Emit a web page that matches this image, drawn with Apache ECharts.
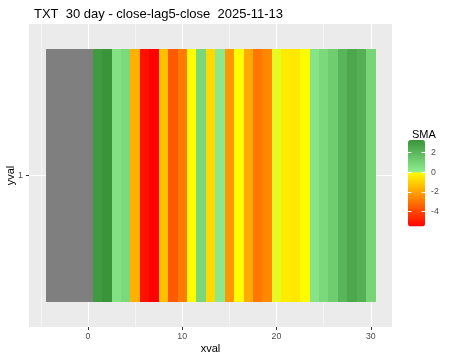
<!DOCTYPE html>
<html><head><meta charset="utf-8">
<script src="https://cdn.jsdelivr.net/npm/echarts@6/dist/echarts.min.js"></script>
<style>html,body{margin:0;padding:0;background:#fff}#c{width:450px;height:360px}</style>
</head><body><div id="c"></div>
<script>
const titleText = 'TXT  30 day - close-lag5-close  2025-11-13';
const naX = [-4, -3, -2, -1, 0];
const xval = [1,2,3,4,5,6,7,8,9,10,11,12,13,14,15,16,17,18,19,20,21,22,23,24,25,26,27,28,29,30];
const smaVal = [3.05, 3.28, 0.51, 0.80, -1.71, -5.17, -5.52, -1.36, -3.57, -2.88,
                -0.02, 0.84, -0.84, 0.22, -2.21, -0.05, -1.84, -2.94, -2.58, -0.01,
                -0.43, -0.50, -0.06, 0.36, 0.80, 1.24, 2.08, 2.55, 2.26, 0.95];
const yRow = 1;
const yLabels = ['1'];
const xBreaks = [0, 10, 20, 30];
const xMinorBreaks = [-5, 5, 15, 25];
const legendBreaks = [2, 0, -2, -4];

const FONT = 'Liberation Sans, Arial, sans-serif';
const allX = naX.concat(xval);
const lo = Math.min(...allX) - 0.5, hi = Math.max(...allX) + 0.5;
const pad = (hi - lo) * 0.05;
const xMin = lo - pad, xMax = hi + pad;
const vMin = Math.min(...smaVal), vMax = Math.max(...smaVal);

function hex(c){return [parseInt(c.slice(1,3),16),parseInt(c.slice(3,5),16),parseInt(c.slice(5,7),16)];}
function lerp(a,b,t){const A=hex(a),B=hex(b);return 'rgb('+A.map((v,i)=>Math.round(v+(B[i]-v)*t)).join(',')+')';}
function colorOf(v){
  if (v < 0) return lerp('#FF0000','#FFFF00',(v - vMin)/(0 - vMin));
  return lerp('#90EE90','#3A943A', v / vMax);
}
const stops = [];
const N = 201;
for (let i = 0; i < N; i++) stops.push(colorOf(vMin + (vMax - vMin) * i / (N - 1)));

function tile(color){
  return function(params, api){
    const x = api.value(0), y = api.value(1);
    const p0 = api.coord([x - 0.5, y + 0.5]);
    const p1 = api.coord([x + 0.5, y - 0.5]);
    const x0 = Math.round(p0[0]), x1 = Math.round(p1[0]);
    const y0 = Math.round(p0[1]), y1 = Math.round(p1[1]);
    const c = color || api.visual('color');
    return {type:'rect', shape:{x:x0, y:y0, width:x1-x0, height:y1-y0},
            style:{fill:c}};
  };
}
const hiddenLine = {show:true, onZero:false, lineStyle:{color:'rgba(0,0,0,0)', width:0}};

const chart = echarts.init(document.getElementById('c'), null, {renderer:'canvas'});
const legTop = 140, legH = 86.5, legLeft = 408, legW = 17;
chart.setOption({
  animation: false,
  backgroundColor: '#ffffff',
  title: [
    {text: titleText, left: 29, top: 3, textStyle:{fontFamily:FONT, fontSize:13, fontWeight:'normal', color:'#000'}},
    {text: 'SMA', left: 407, top: 124, textStyle:{fontFamily:FONT, fontSize:11, fontWeight:'normal', color:'#000'}}
  ],
  grid: [
    {left: 29, right: 58, top: 24, bottom: 33, show: true, backgroundColor: '#EBEBEB', borderWidth: 0,
     containLabel:false, outerBoundsMode:'none'},
    {left: legLeft, top: legTop, width: legW, height: legH, show: false, containLabel:false, outerBoundsMode:'none'}
  ],
  xAxis: [
    {type:'value', gridIndex:0, min:xMin, max:xMax, position:'bottom',
     axisLine:hiddenLine,
     axisTick:{show:true, customValues:xBreaks, length:3, lineStyle:{color:'#333333', width:1}},
     axisLabel:{customValues:xBreaks, margin:5, fontFamily:FONT, fontSize:8.8, color:'#4D4D4D'},
     splitLine:{show:true, lineStyle:{color:'#ffffff', width:1}},
     name:'xval', nameLocation:'middle', nameGap:16, nameMoveOverlap:false,
     nameTextStyle:{fontFamily:FONT, fontSize:11, color:'#000'}},
    {type:'value', gridIndex:0, min:xMin, max:xMax, position:'top',
     axisLine:{show:false}, axisTick:{show:false, customValues:xMinorBreaks}, axisLabel:{show:false, customValues:xMinorBreaks},
     splitLine:{show:true, lineStyle:{color:'#ffffff', width:0.5}}},
    {type:'value', gridIndex:1, min:0, max:1, show:false}
  ],
  yAxis: [
    {type:'value', gridIndex:0, min:yRow-0.6, max:yRow+0.6,
     axisLine:hiddenLine,
     axisTick:{show:true, customValues:[yRow], length:3, lineStyle:{color:'#333333', width:1}},
     axisLabel:{customValues:[yRow], formatter: () => yLabels[0], margin:6, fontFamily:FONT, fontSize:8.8, color:'#4D4D4D'},
     splitLine:{show:true, lineStyle:{color:'#ffffff', width:1}},
     name:'yval', nameLocation:'middle', nameGap:13, nameRotate:90, nameMoveOverlap:false,
     nameTextStyle:{fontFamily:FONT, fontSize:11, color:'#000'}},
    {type:'value', gridIndex:1, min:vMin, max:vMax, position:'right', z:10,
     axisLine:hiddenLine,
     axisTick:{show:true, inside:true, customValues:legendBreaks, length:3.4, lineStyle:{color:'#ffffff', width:1}},
     axisLabel:{customValues:legendBreaks, margin:6, fontFamily:FONT, fontSize:8.8, color:'#4D4D4D'},
     splitLine:{show:false}},
    {type:'value', gridIndex:1, min:vMin, max:vMax, position:'left', z:10,
     axisLine:hiddenLine,
     axisTick:{show:true, inside:true, customValues:legendBreaks, length:3.4, lineStyle:{color:'#ffffff', width:1}},
     axisLabel:{show:false}, splitLine:{show:false}}
  ],
  visualMap: [{
    type:'continuous', seriesIndex:1, dimension:2, min:vMin, max:vMax,
    calculable:false, hoverLink:false, orient:'vertical',
    left:legLeft, top:legTop, itemWidth:legW, itemHeight:legH, padding:0,
    text:null, inRange:{color:stops}
  }],
  series: [
    {type:'custom', xAxisIndex:0, yAxisIndex:0, renderItem: tile('#7F7F7F'),
     data: naX.map(x => [x, yRow]), encode:{x:0, y:1}, silent:true},
    {type:'custom', xAxisIndex:0, yAxisIndex:0, renderItem: tile(null),
     data: xval.map((x, i) => [x, yRow, smaVal[i]]), encode:{x:0, y:1}, silent:true}
  ]
});
</script></body></html>
